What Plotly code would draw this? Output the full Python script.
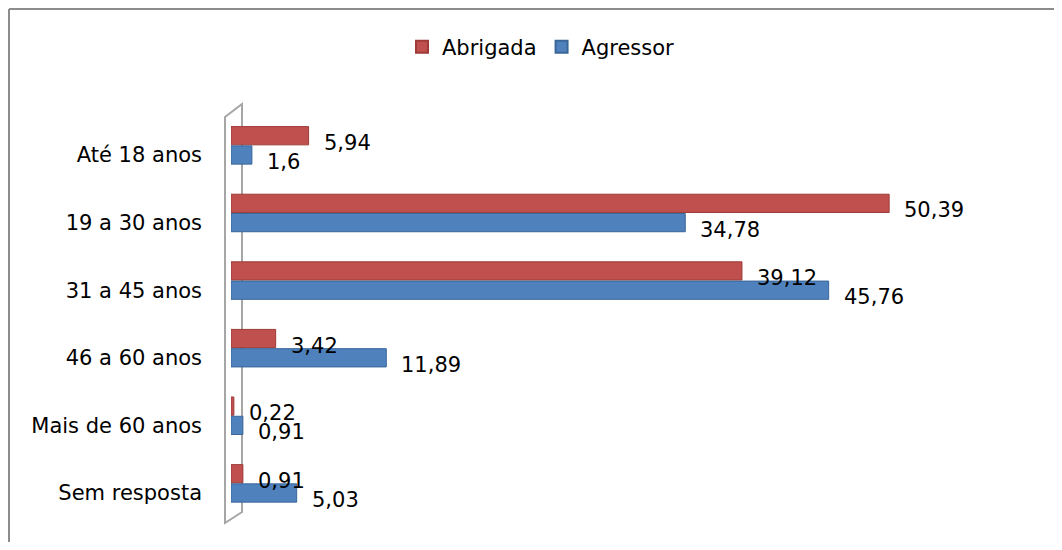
import plotly.graph_objects as go

categories = ["Até 18 anos", "19 a 30 anos", "31 a 45 anos", "46 a 60 anos", "Mais de 60 anos", "Sem resposta"]
abrigada = [5.94, 50.39, 39.12, 3.42, 0.22, 0.91]
agressor = [1.6, 34.78, 45.76, 11.89, 0.91, 5.03]
series_names = ["Abrigada", "Agressor"]
colors = ["#C0504D", "#4F81BD"]
line_colors = ["#9E3B38", "#3A6699"]

FONT = "DejaVu Sans"
FS = 21
OFF = 8  # page body margin
W, H = 1062 - 2 * OFF, 550 - 2 * OFF
# plot area in reference pixels: x 231..1040, y 100..530
RL, RR, RT, RB = 231, 1040, 100, 530
ML, MR, MT, MB = RL - OFF, W - (RR - OFF), RT - OFF, H - (RB - OFF)
PW, PH = RR - RL, RB - RT
XMAX = 61.94
ROW_PX = 67.6
pos = list(range(len(categories)))
y_top = 0 - (155 - RT) / ROW_PX
y_bot = (len(categories) - 1) + (RB - 493) / ROW_PX
bar_w = 0.27
red_off = -0.285


def fmt(v):
    return f"{v:g}".replace(".", ",")


fig = go.Figure()
for name, vals, col, lc, off in [
    (series_names[0], abrigada, colors[0], line_colors[0], red_off),
    (series_names[1], agressor, colors[1], line_colors[1], 0.0),
]:
    fig.add_trace(go.Bar(
        name=name, orientation="h", x=vals, y=[p + off for p in pos],
        width=bar_w, marker=dict(color=col, line=dict(color=lc, width=1)),
    ))
    for p, v in zip(pos, vals):
        fig.add_annotation(x=v, y=p + off, text=fmt(v), showarrow=False,
                           xanchor="left", yanchor="middle", xshift=13, yshift=-7,
                           font=dict(size=FS, color="#000000", family=FONT))


def px2paper(px, py):
    return (px - RL) / PW, (RB - py) / PH


pts = [(225, 117), (242, 104), (242, 512), (225, 523)]
pp = [px2paper(*p) for p in pts]
path = "M " + " L ".join(f"{a},{b}" for a, b in pp) + " Z"
fig.add_shape(type="path", path=path, xref="paper", yref="paper",
              line=dict(color="#A6A6A6", width=2), fillcolor="rgba(255,255,255,0)", layer="below")

# chart frame: only its top and left edges fall inside the picture
cx0, cy0 = px2paper(9, 9)
cx1, cy1 = px2paper(1060, 548)
fig.add_shape(type="line", xref="paper", yref="paper", x0=cx0, y0=cy0, x1=cx1, y1=cy0,
              line=dict(color="#8C8C8C", width=2), layer="below")
fig.add_shape(type="line", xref="paper", yref="paper", x0=cx0, y0=cy0, x1=cx0, y1=cy1,
              line=dict(color="#8C8C8C", width=2), layer="below")

fig.update_layout(
    width=W, height=H, margin=dict(l=ML, r=MR, t=MT, b=MB),
    paper_bgcolor="white", plot_bgcolor="white", barmode="overlay",
    font=dict(family=FONT, size=FS, color="#000000"),
    showlegend=True,
    legend=dict(orientation="h", x=(541 - RL) / PW, xanchor="center",
                y=1 + (RT - 47) / PH, yanchor="middle", font=dict(size=FS, family=FONT),
                itemsizing="constant", traceorder="normal"),
    xaxis=dict(range=[0, XMAX], showgrid=False, zeroline=False, showticklabels=False,
               showline=False, ticks=""),
    yaxis=dict(range=[y_bot, y_top], tickvals=pos, ticktext=categories, showgrid=False,
               zeroline=False, showline=False, ticks="", ticklabelstandoff=28,
               tickfont=dict(size=FS, family=FONT)),
)

fig.write_html("out.html")
